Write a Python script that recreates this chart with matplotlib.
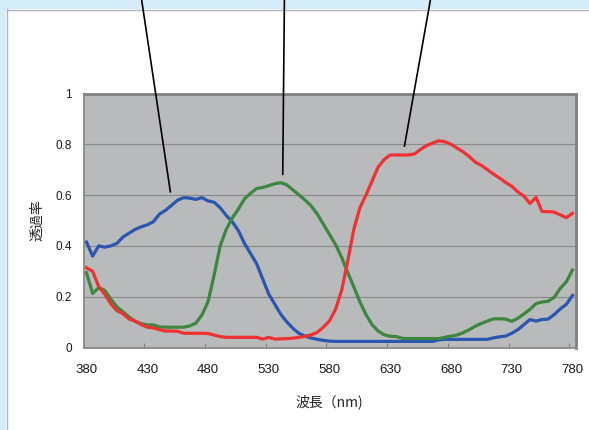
import matplotlib
matplotlib.use("Agg")
import matplotlib.pyplot as plt
from matplotlib.patches import Rectangle
from matplotlib.lines import Line2D
import numpy as np

plt.rcParams['font.family'] = ['Liberation Sans', 'DejaVu Sans', 'Noto Sans CJK JP']

wavelength = list(range(380, 781, 5))

blue = [0.415, 0.36, 0.40, 0.395, 0.40, 0.41, 0.435, 0.45, 0.465, 0.475,
        0.483, 0.495, 0.525, 0.54, 0.56, 0.58, 0.59, 0.588, 0.583, 0.59,
        0.577, 0.572, 0.55, 0.52, 0.495, 0.46, 0.41, 0.37, 0.33, 0.27,
        0.21, 0.17, 0.13, 0.10, 0.075, 0.055, 0.045, 0.037, 0.032, 0.028,
        0.025, 0.024, 0.024, 0.024, 0.024, 0.024, 0.024, 0.024, 0.024, 0.024,
        0.024, 0.024, 0.024, 0.024, 0.024, 0.024, 0.024, 0.024, 0.03, 0.032,
        0.032, 0.032, 0.032, 0.032, 0.032, 0.032, 0.032, 0.038, 0.042, 0.045,
        0.056, 0.07, 0.09, 0.11, 0.104, 0.11, 0.112, 0.13, 0.152, 0.17,
        0.205]

red = [0.314, 0.30, 0.24, 0.21, 0.172, 0.145, 0.133, 0.112, 0.104, 0.09,
       0.08, 0.077, 0.07, 0.065, 0.065, 0.064, 0.056, 0.056, 0.056, 0.056,
       0.055, 0.049, 0.043, 0.04, 0.04, 0.04, 0.04, 0.04, 0.04, 0.033,
       0.04, 0.033, 0.034, 0.035, 0.037, 0.04, 0.044, 0.05, 0.06, 0.08,
       0.105, 0.15, 0.225, 0.34, 0.465, 0.55, 0.60, 0.655, 0.71, 0.74,
       0.758, 0.758, 0.758, 0.758, 0.762, 0.78, 0.795, 0.805, 0.814, 0.81,
       0.80, 0.785, 0.77, 0.752, 0.73, 0.717, 0.70, 0.683, 0.667, 0.65,
       0.635, 0.613, 0.596, 0.567, 0.591, 0.535, 0.535, 0.533, 0.522, 0.511,
       0.528]

green = [0.294, 0.213, 0.235, 0.225, 0.19, 0.16, 0.14, 0.12, 0.103, 0.094,
         0.089, 0.089, 0.081, 0.08, 0.08, 0.08, 0.08, 0.085, 0.096, 0.128,
         0.18, 0.285, 0.40, 0.465, 0.51, 0.545, 0.585, 0.607, 0.626, 0.63,
         0.637, 0.645, 0.649, 0.64, 0.62, 0.60, 0.58, 0.557, 0.525, 0.485,
         0.445, 0.405, 0.355, 0.295, 0.239, 0.18, 0.13, 0.09, 0.065, 0.05,
         0.044, 0.043, 0.036, 0.035, 0.035, 0.035, 0.035, 0.035, 0.035, 0.04,
         0.045, 0.049, 0.058, 0.07, 0.084, 0.095, 0.104, 0.113, 0.113, 0.112,
         0.103, 0.115, 0.132, 0.15, 0.173, 0.179, 0.182, 0.198, 0.233, 0.259,
         0.305]

x_ticks = [380, 430, 480, 530, 580, 630, 680, 730, 780]
y_ticks = [0, 0.2, 0.4, 0.6, 0.8, 1]
y_ticklabels = ['0', '0.2', '0.4', '0.6', '0.8', '1']

fig = plt.figure(figsize=(5.89, 4.30), dpi=100)
fig.patch.set_facecolor('white')

# light blue frame strips (page background)
W, H = 589.0, 430.0
fig.patches.append(Rectangle((0, 0), 6 / W, 1, transform=fig.transFigure,
                             facecolor='#d5edf9', edgecolor='none', zorder=-2))
fig.patches.append(Rectangle((0, 1 - 9 / H), 1, 9 / H, transform=fig.transFigure,
                             facecolor='#d5edf9', edgecolor='none', zorder=-2))
fig.lines.append(Line2D([6.5 / W, 6.5 / W], [0, 1 - 9 / H], transform=fig.transFigure,
                        color='#a9b3b8', lw=1.0, zorder=-1))
fig.lines.append(Line2D([6.5 / W, 1], [1 - 9.5 / H, 1 - 9.5 / H], transform=fig.transFigure,
                        color='#a9b3b8', lw=1.0, zorder=-1))

ax = fig.add_axes([83.5 / W, (H - 347.5) / H, 492.0 / W, 254.0 / H])
ax.set_zorder(1)
ax.set_facecolor('#b9babc')

for yv in [0.2, 0.4, 0.6, 0.8]:
    ax.axhline(yv, color='#8b8b8b', lw=0.9, zorder=1)

ax.plot(wavelength, blue, color='#2a56b0', lw=2.3, zorder=3, solid_joinstyle='round')
ax.plot(wavelength, green, color='#3b873f', lw=2.3, zorder=3, solid_joinstyle='round')
ax.plot(wavelength, red, color='#ef3131', lw=2.3, zorder=4, solid_joinstyle='round')

ax.set_xlim(377.5, 782.5)
ax.set_ylim(0, 1)

ax.set_xticks(x_ticks)
ax.set_xticklabels([str(v) for v in x_ticks], fontsize=9.5)
ax.tick_params(axis='x', length=0, pad=12, colors='#1a1a1a')
ax.set_xticks([t + 47.5 for t in x_ticks[:-1]], minor=True)
ax.tick_params(axis='x', which='minor', direction='in', length=3.5, width=0.8, color='#808080')

ax.set_yticks(y_ticks)
ax.set_yticklabels(y_ticklabels, fontsize=8.5)
ax.tick_params(axis='y', length=0, pad=8.5, colors='#1a1a1a')

for s in ['left', 'bottom']:
    ax.spines[s].set_color('#8a8a8a')
    ax.spines[s].set_linewidth(1.3)
for s in ['top', 'right']:
    ax.spines[s].set_color('#808080')
    ax.spines[s].set_linewidth(2.0)

ax.set_xlabel('波長（nm)', fontsize=10, family=['Noto Sans CJK JP', 'DejaVu Sans'],
              labelpad=13, color='#222222')
ax.set_ylabel('透過率', fontsize=10, family=['Noto Sans CJK JP', 'DejaVu Sans'],
              labelpad=8, color='#222222')

# leader lines pointing to each curve, extending above the figure
leaders = [((449, 0.613), (425, 1.38)),
           ((541.5, 0.682), (542.9, 1.38)),
           ((641.7, 0.793), (663.5, 1.38))]
for (x0, y0), (x1, y1) in leaders:
    ax.plot([x0, x1], [y0, y1], color='black', lw=1.2, clip_on=False, zorder=6)

fig.savefig('out.png', dpi=100)
